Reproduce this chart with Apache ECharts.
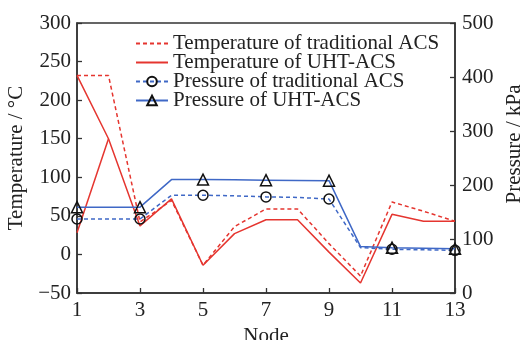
<!DOCTYPE html>
<html>
<head>
<meta charset="utf-8">
<script src="https://cdn.jsdelivr.net/npm/echarts@6/dist/echarts.min.js"></script>
<style>html,body{margin:0;padding:0;background:#fff;}#c{width:522px;height:340px;}</style>
</head>
<body>
<div id="c"></div>
<script>
const nodes = ['1','2','3','4','5','6','7','8','9','10','11','12','13'];
const tempTraditional = [232, 232, 42, 70, -14, 36, 59, 59, 14, -28, 68, 56, 43];
const tempUHT = [232, 150, 37, 72, -14, 27, 45, 45, 3, -37, 52, 43, 43];
const tempUHTInlet = [28, 150, null, null, null, null, null, null, null, null, null, null, null];
const pressTraditional = [137, 137, 137, 181, 181, 180, 178, 177, 174, 84, 81, 80, 79];
const pressUHT = [159, 159, 159, 210, 210, 209.5, 209, 208.5, 208, 86, 84, 83, 82];

const RED = '#e5352f';
const BLUE = '#3f68c6';
const FONT = 'Liberation Serif';
const FS = 21;
const markOdd = function (size) {
  return function (v, p) { return p.dataIndex % 2 === 0 ? size : 0; };
};
const minus = function (v) { return String(v).replace('-', '\u2212'); };

const chart = echarts.init(document.getElementById('c'), null, {renderer: 'canvas'});
chart.setOption({
  animation: false,
  textStyle: {fontFamily: FONT, color: '#222'},
  grid: {left: 77, right: 67, top: 23, bottom: 47, show: true, borderColor: '#333', borderWidth: 1.5,
         containLabel: false, outerBoundsMode: 'none'},
  legend: {
    left: 130, top: 28, orient: 'vertical',
    itemWidth: 32, itemHeight: 12, itemGap: -2,
    textStyle: {fontFamily: FONT, fontSize: FS, color: '#222', lineHeight: 18},
    data: [
      {name: 'Temperature of traditional ACS', itemStyle: {opacity: 0}},
      {name: 'Temperature of UHT-ACS', itemStyle: {opacity: 0}},
      'Pressure of traditional ACS',
      'Pressure of UHT-ACS'
    ]
  },
  xAxis: {
    type: 'category', data: nodes, boundaryGap: false,
    name: 'Node', nameLocation: 'middle', nameGap: 30,
    nameTextStyle: {fontFamily: FONT, fontSize: FS, color: '#222'},
    axisLine: {onZero: false, lineStyle: {color: '#333', width: 1.5}},
    axisTick: {inside: true, length: 5, interval: 1, lineStyle: {color: '#333', width: 1.3}},
    axisLabel: {interval: 1, fontFamily: FONT, fontSize: FS, color: '#222', margin: 7},
    splitLine: {show: false}
  },
  yAxis: [{
    type: 'value', min: -50, max: 300, interval: 50,
    name: 'Temperature / °C', nameLocation: 'middle', nameGap: 45, nameRotate: 90,
    nameTextStyle: {fontFamily: FONT, fontSize: FS, color: '#222'},
    axisLine: {show: true, onZero: false, lineStyle: {color: '#333', width: 1.5}},
    axisTick: {show: true, inside: true, length: 5, lineStyle: {color: '#333', width: 1.3}},
    axisLabel: {fontFamily: FONT, fontSize: FS, color: '#222', margin: 6, formatter: minus},
    splitLine: {show: false}
  }, {
    type: 'value', min: 0, max: 500, interval: 100, position: 'right',
    name: 'Pressure / kPa', nameLocation: 'middle', nameGap: 47, nameRotate: 90,
    nameTextStyle: {fontFamily: FONT, fontSize: FS, color: '#222', padding: [0, 0, 0, 28]},
    axisLine: {show: true, onZero: false, lineStyle: {color: '#333', width: 1.5}},
    axisTick: {show: true, inside: true, length: 5, lineStyle: {color: '#333', width: 1.3}},
    axisLabel: {fontFamily: FONT, fontSize: FS, color: '#222', margin: 7},
    splitLine: {show: false}
  }],
  series: [{
    name: 'Temperature of traditional ACS', type: 'line', yAxisIndex: 0,
    data: tempTraditional, symbol: 'none',
    itemStyle: {color: RED},
    lineStyle: {color: RED, width: 1.5, type: [4, 3]}
  }, {
    name: 'Temperature of UHT-ACS', type: 'line', yAxisIndex: 0,
    data: tempUHT, symbol: 'none',
    itemStyle: {color: RED},
    lineStyle: {color: RED, width: 1.5}
  }, {
    name: 'Temperature of UHT-ACS inlet', type: 'line', yAxisIndex: 0,
    data: tempUHTInlet, symbol: 'none', connectNulls: false,
    itemStyle: {color: RED},
    lineStyle: {color: RED, width: 1.5}
  }, {
    name: 'Pressure of traditional ACS', type: 'line', yAxisIndex: 1,
    data: pressTraditional, symbol: 'circle', symbolSize: markOdd(10), showAllSymbol: true,
    itemStyle: {color: 'rgba(255,255,255,0)', borderColor: '#111', borderWidth: 1.5},
    lineStyle: {color: BLUE, width: 1.5, type: [4, 3]}
  }, {
    name: 'Pressure of UHT-ACS', type: 'line', yAxisIndex: 1,
    data: pressUHT, symbol: 'triangle', symbolSize: markOdd(11), showAllSymbol: true,
    itemStyle: {color: 'rgba(255,255,255,0)', borderColor: '#111', borderWidth: 1.5},
    lineStyle: {color: BLUE, width: 1.5}
  }]
});
</script>
</body>
</html>
